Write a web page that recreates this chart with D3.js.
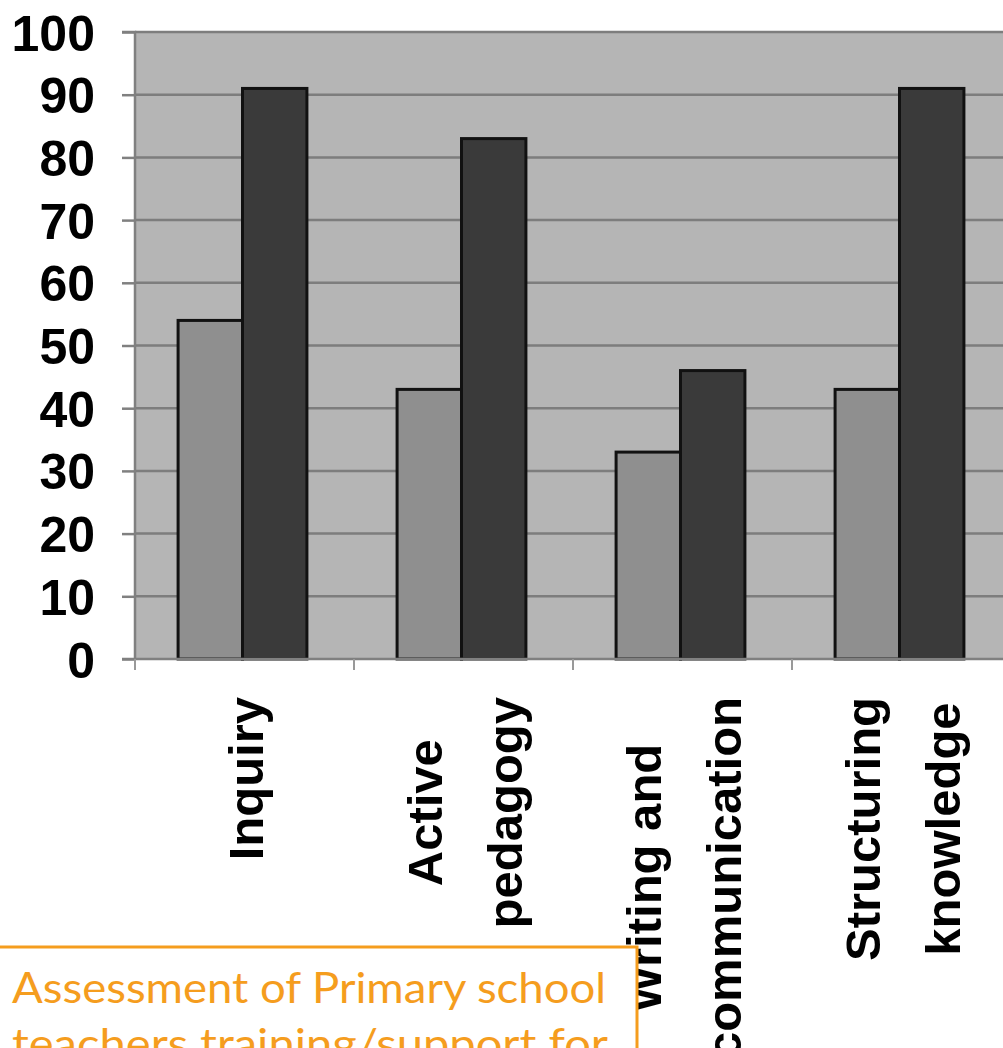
<!DOCTYPE html>
<html><head><meta charset="utf-8">
<script src="https://cdn.jsdelivr.net/npm/d3@7"></script>
<style>body{margin:0;background:#fff;overflow:hidden}svg{display:block}</style>
</head><body>
<svg id="c" width="1003" height="1048"></svg>
<script>
const categories = [["Inquiry"], ["Active", "pedagogy"], ["Writing and", "communication"], ["Structuring", "knowledge"]];
const seriesNames = ["Before", "After"];
const seriesBefore = [54, 43, 33, 43];
const seriesAfter = [91, 83, 46, 91];
const yTicks = [0, 10, 20, 30, 40, 50, 60, 70, 80, 90, 100];
const boxLines = ["Assessment of Primary school", "teachers training/support  for"];

(function () {
const svg = d3.select("#c");
const pLeft = 135, pRight = 1011, pTop = 32, pBottom = 659;
const catKeys = categories.map((c, i) => i);
const x0 = d3.scaleBand().domain(catKeys).range([pLeft, pRight]).padding(0);
const x1 = d3.scaleBand().domain(seriesNames).range([-2, x0.bandwidth() - 2]).paddingInner(0).paddingOuter(0.7);
const y = d3.scaleLinear().domain([0, 100]).range([pBottom, pTop]);
const colors = {Before: "#8f8f8f", After: "#3a3a3a"};

svg.append("rect").attr("x", pLeft).attr("y", pTop).attr("width", pRight - pLeft).attr("height", pBottom - pTop).attr("fill", "#b5b5b5");

svg.append("g").selectAll("line").data(yTicks.filter(d => d > 0)).join("line")
  .attr("x1", pLeft).attr("x2", pRight).attr("y1", d => y(d)).attr("y2", d => y(d))
  .attr("stroke", "#7d7d7d").attr("stroke-width", 2.5);

const rows = catKeys.map(i => ({i, Before: seriesBefore[i], After: seriesAfter[i]}));
const g = svg.append("g");
rows.forEach(r => {
  seriesNames.forEach(s => {
    g.append("rect")
      .attr("x", x0(r.i) + x1(s))
      .attr("y", y(r[s]))
      .attr("width", x1.bandwidth())
      .attr("height", y(0) - y(r[s]))
      .attr("fill", colors[s]).attr("stroke", "#111").attr("stroke-width", 3);
  });
});

const yAxis = d3.axisLeft(y).tickValues(yTicks).tickSize(13).tickPadding(27);
const ya = svg.append("g").attr("transform", `translate(${pLeft},0)`).call(yAxis);
ya.select(".domain").attr("stroke", "#808080").attr("stroke-width", 2.5).attr("d", `M-13,${pTop}H0V${pBottom}`);
ya.selectAll(".tick line").attr("stroke", "#808080").attr("stroke-width", 2.5);
ya.selectAll(".tick text").attr("font-family", "Liberation Sans, Arial, sans-serif").attr("font-size", 50)
  .attr("font-weight", "bold").attr("fill", "#000").attr("dy", "0.36em");

const xa = svg.append("g").attr("transform", `translate(0,${pBottom})`);
xa.append("line").attr("x1", pLeft - 13).attr("x2", pRight).attr("y1", 0).attr("y2", 0).attr("stroke", "#808080").attr("stroke-width", 2.5);
xa.selectAll(".xt").data(catKeys).join("line").attr("class", "xt")
  .attr("x1", d => x0(d)).attr("x2", d => x0(d)).attr("y1", 0).attr("y2", 11)
  .attr("stroke", "#999").attr("stroke-width", 2);

const labTop = 697;
const lineGap = 80;
catKeys.forEach(i => {
  const lines = categories[i];
  const cx = x0(i) + x0.bandwidth() / 2;
  const lg = svg.append("g");
  const texts = lines.map((t, k) => lg.append("text").text(t)
    .attr("font-family", "Liberation Sans, Arial, sans-serif").attr("font-size", 49).attr("font-weight", "bold")
    .attr("fill", "#000").attr("text-anchor", "middle"));
  const maxLen = d3.max(texts, t => t.node().getComputedTextLength());
  const cy = labTop + maxLen / 2;
  texts.forEach((t, k) => {
    const off = (k - (lines.length - 1) / 2) * lineGap;
    const bx = cx + off + 18;
    t.attr("transform", `translate(${bx},${cy}) rotate(-90)`);
  });
});

const box = svg.append("g");
box.append("rect").attr("x", -3).attr("y", 947).attr("width", 640).attr("height", 200)
  .attr("fill", "#fff").attr("stroke", "#f59d1e").attr("stroke-width", 3);
boxLines.forEach((t, k) => {
  box.append("text").text(t).attr("x", 12).attr("y", 1003 + k * 56)
    .attr("font-family", "Lato, 'Noto Sans', sans-serif").attr("font-size", 42)
    .attr("fill", "#f59d1e").attr("textLength", k === 0 ? 594 : 596).attr("lengthAdjust", "spacingAndGlyphs");
});
})();
</script>
</body></html>
